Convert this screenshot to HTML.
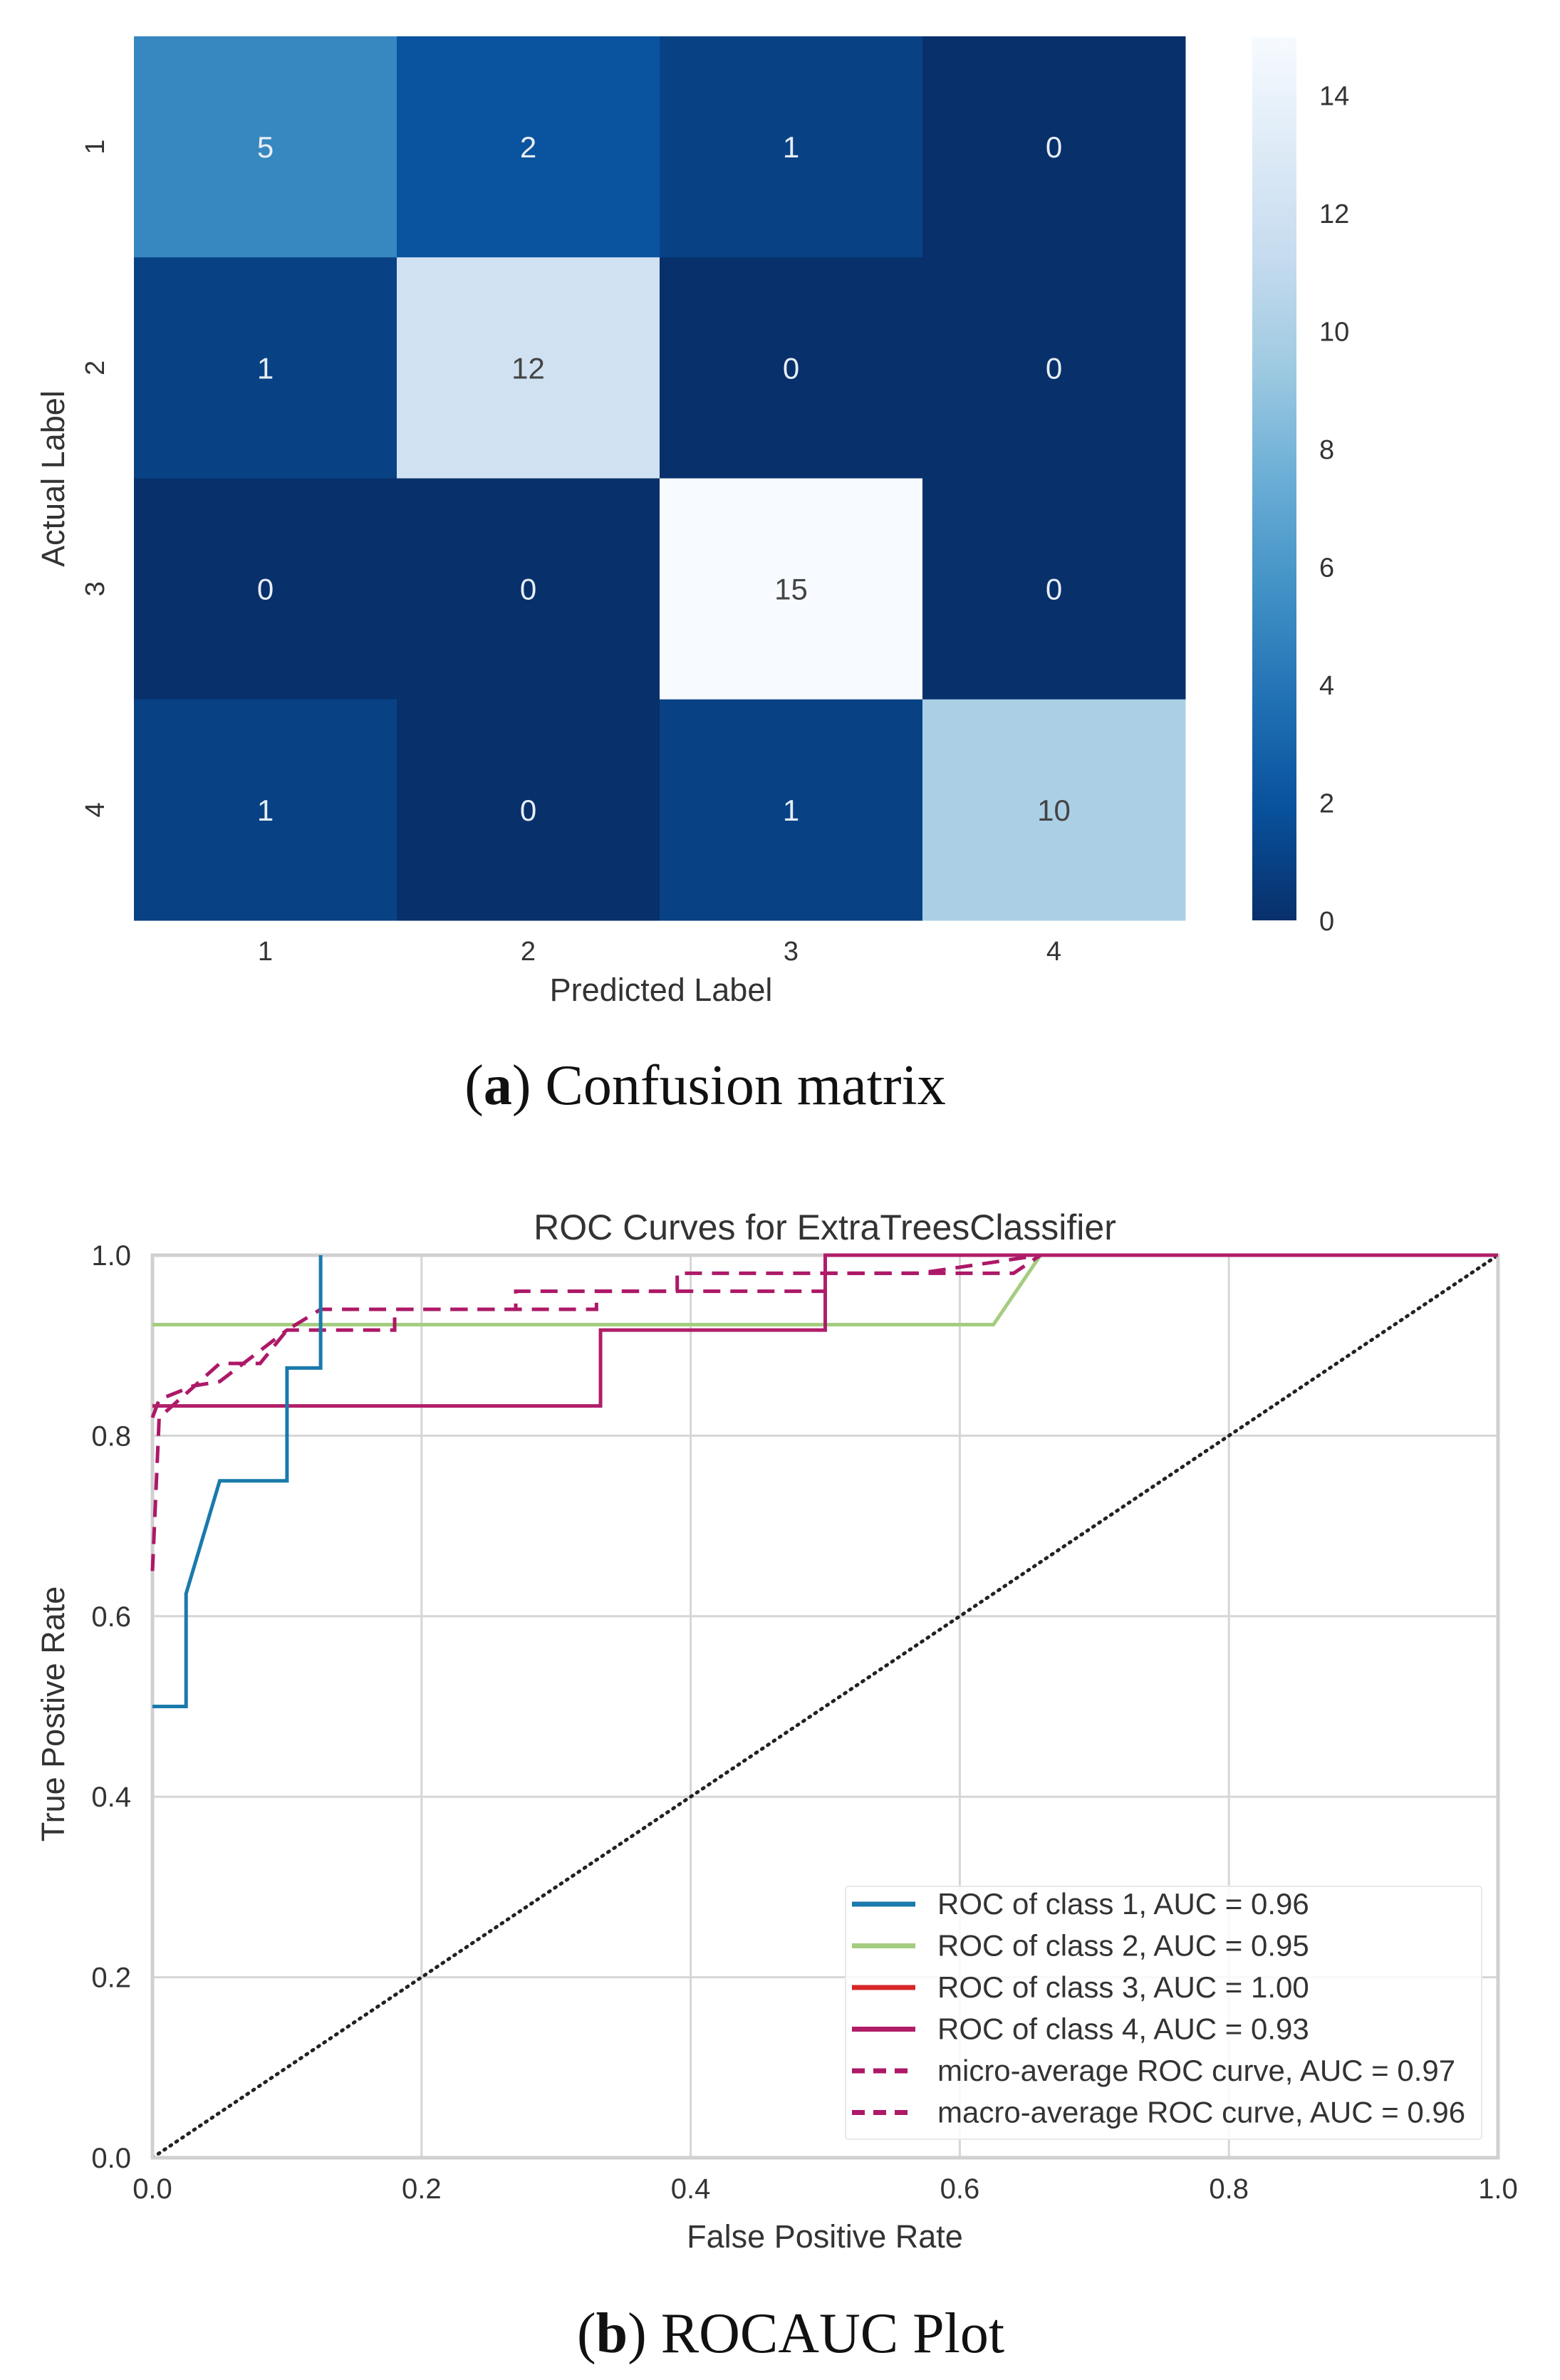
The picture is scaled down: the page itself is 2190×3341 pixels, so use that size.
<!DOCTYPE html>
<html><head><meta charset="utf-8"><style>
html,body{margin:0;padding:0;background:#fff;}
svg{display:block;}
</style></head><body>
<svg id="fig" width="2190" height="3341" viewBox="0 0 2190 3341" xmlns="http://www.w3.org/2000/svg" font-family="Liberation Sans, sans-serif">
<g id="cm"></g>
<g id="cb"></g>
<text x="928" y="1405" font-size="45" fill="#333" text-anchor="middle">Predicted Label</text>
<text transform="translate(90,672) rotate(-90)" font-size="45" fill="#333" text-anchor="middle">Actual Label</text>
<text x="990" y="1550" font-size="80" font-family="Liberation Serif, serif" text-anchor="middle" fill="#111">(<tspan font-weight="bold">a</tspan>) Confusion matrix</text>
<g id="roc"></g>
<text x="1158" y="1740" font-size="50" fill="#333" text-anchor="middle">ROC Curves for ExtraTreesClassifier</text>
<text x="1158" y="3155" font-size="45" fill="#333" text-anchor="middle">False Positive Rate</text>
<text transform="translate(90,2406) rotate(-90)" font-size="45" fill="#333" text-anchor="middle">True Postive Rate</text>
<text x="1110" y="3302" font-size="80" font-family="Liberation Serif, serif" text-anchor="middle" fill="#111">(<tspan font-weight="bold">b</tspan>) ROCAUC Plot</text>
</svg>
<script>
const classLabels = ["1","2","3","4"];
const matrix = [[5,2,1,0],[1,12,0,0],[0,0,15,0],[1,0,1,10]];
const cbTicks = [0,2,4,6,8,10,12,14];
const rocTicks = [0,0.2,0.4,0.6,0.8,1.0];
const c1x=[0,0.025,0.025,0.05,0.1,0.1,0.125,0.125];
const c1y=[0.5,0.5,0.625,0.75,0.75,0.875,0.875,1.0];
const c2x=[0,0.625,0.66,1];
const c2y=[0.923,0.923,1.0,1.0];
const c3x=[0,0,1];
const c3y=[0,1,1];
const c4x=[0,0.333,0.333,0.5,0.5,1];
const c4y=[0.833,0.833,0.917,0.917,1.0,1.0];
const microX=[0,0.005,0.05,0.08,0.1,0.125,0.27,0.27,0.39,0.39,0.5,0.5,0.64,0.66,1];
const microY=[0.65,0.82,0.88,0.88,0.917,0.94,0.94,0.96,0.96,0.98,0.98,0.98,0.98,1.0,1.0];
const macroX=[0,0.005,0.03,0.05,0.1,0.18,0.18,0.33,0.33,0.5,0.5,0.57,0.66,1];
const macroY=[0.82,0.84,0.855,0.86,0.917,0.917,0.94,0.94,0.96,0.96,0.98,0.98,1.0,1.0];
const legendLabels=["ROC of class 1, AUC = 0.96","ROC of class 2, AUC = 0.95","ROC of class 3, AUC = 1.00","ROC of class 4, AUC = 0.93","micro-average ROC curve, AUC = 0.97","macro-average ROC curve, AUC = 0.96"];

const NS="http://www.w3.org/2000/svg";
function mk(tag,attrs,parent){const e=document.createElementNS(NS,tag);for(const k in attrs)e.setAttribute(k,attrs[k]);parent.appendChild(e);return e;}
const blues=["#08306b","#08519c","#2171b5","#4292c6","#6baed6","#9ecae1","#c6dbef","#deebf7","#f7fbff"];
function hex(h){return [1,3,5].map(i=>parseInt(h.substr(i,2),16));}
function blue(v,vmax){let t=Math.max(0,Math.min(1,v/vmax))*(blues.length-1);let i=Math.min(Math.floor(t),blues.length-2);let f=t-i;let a=hex(blues[i]),b=hex(blues[i+1]);return "rgb("+a.map((x,k)=>Math.round(x+(b[k]-x)*f)).join(",")+")";}

const cm=document.getElementById('cm');
const L=188,T=51,R=1664,B=1292,vmax=15;
const cw=(R-L)/4,ch=(B-T)/4;
matrix.forEach((row,r)=>row.forEach((v,c)=>{
 const rect=mk('rect',{x:L+c*cw,y:T+r*ch,width:cw+0.5,height:ch+0.5,fill:blue(v,vmax)},cm);
 
 
 const t=mk('text',{x:L+(c+.5)*cw,y:T+(r+.5)*ch+15,'font-size':42,'text-anchor':'middle',fill:v>7?'#444':'#e8eef6'},cm);
 
 
 t.textContent=v;
}));
classLabels.forEach((lab,i)=>{
 const t=mk('text',{x:L+(i+.5)*cw,y:1348,'font-size':38,'text-anchor':'middle',fill:'#333'},cm);
 
 
 t.textContent=lab;
 const t2=mk('text',{transform:'translate(146,'+(T+(i+.5)*ch)+') rotate(-90)','font-size':38,'text-anchor':'middle',fill:'#333'},cm);
 
 
 t2.textContent=lab;
});
const cb=document.getElementById('cb');
const defs=mk('defs',{},cb);
const g=mk('linearGradient',{id:'bg',x1:0,y1:1,x2:0,y2:0},defs);
blues.forEach((c,i)=>mk('stop',{offset:i/(blues.length-1),'stop-color':c},g));
const cbr=mk('rect',{x:1758,y:T,width:62,height:B-T,fill:'url(#bg)'},cb);


cbTicks.forEach(v=>{
 const t=mk('text',{x:1852,y:B-(B-T)*v/vmax+14,'font-size':38,fill:'#333'},cb);
 
 
 t.textContent=v;
});

const roc=document.getElementById('roc');
const X0=214,X1=2103,Y0=3029,Y1=1762;
const sx=v=>X0+(X1-X0)*v, sy=v=>Y0-(Y0-Y1)*v;
rocTicks.forEach(v=>{
 mk('line',{x1:sx(v),x2:sx(v),y1:Y1,y2:Y0,stroke:'#d6d6d6','stroke-width':3},roc);
 mk('line',{x1:X0,x2:X1,y1:sy(v),y2:sy(v),stroke:'#d6d6d6','stroke-width':3},roc);
 const tx=mk('text',{x:sx(v),y:3086,'font-size':40,'text-anchor':'middle',fill:'#333'},roc);
 
 
 tx.textContent=v.toFixed(1);
 const ty=mk('text',{x:184,y:sy(v)+14,'font-size':40,'text-anchor':'end',fill:'#333'},roc);
 
 
 ty.textContent=v.toFixed(1);
});
function line(xs,ys,color,dash,name,w){
 const p=mk('polyline',{points:xs.map((x,i)=>sx(x)+','+sy(ys[i])).join(' '),fill:'none',stroke:color,'stroke-width':w||5,'stroke-dasharray':dash||'none'},roc);
 
 
}
const d=mk('line',{x1:sx(0),y1:sy(0),x2:sx(1),y2:sy(1),stroke:'#222','stroke-width':5,'stroke-dasharray':'2 8','stroke-linecap':'round'},roc);


const colors=['#1a7aab','#a4cd80','#d62728','#b01e68','#ad1867','#ad1867'];
line(c3x,c3y,colors[2],null,'roc-class-3',2);
mk('rect',{x:X0,y:Y1,width:X1-X0,height:Y0-Y1,fill:'none',stroke:'#d0d0d0','stroke-width':5},roc);
line(c2x,c2y,colors[1],null,'roc-class-2');
line(macroX,macroY,colors[5],'24 14','macro-average-roc');
line(microX,microY,colors[4],'24 14','micro-average-roc');
line(c4x,c4y,colors[3],null,'roc-class-4');
line(c1x,c1y,colors[0],null,'roc-class-1');
const lg=mk('g',{},roc);


mk('rect',{x:1187,y:2648,width:893,height:355,fill:'#fff','fill-opacity':0.85,stroke:'#e8e8e8','stroke-width':2,rx:4},lg);
legendLabels.forEach((lab,i)=>{
 const y=2673+i*58.5;
 mk('line',{x1:1196,x2:1285,y1:y,y2:y,stroke:colors[i],'stroke-width':7,'stroke-dasharray':i>=4?'18 12':'none'},lg);
 const t=mk('text',{x:1316,y:y+14,'font-size':42,fill:'#333'},lg);
 
 
 t.textContent=lab;
});
</script>
</body></html>
